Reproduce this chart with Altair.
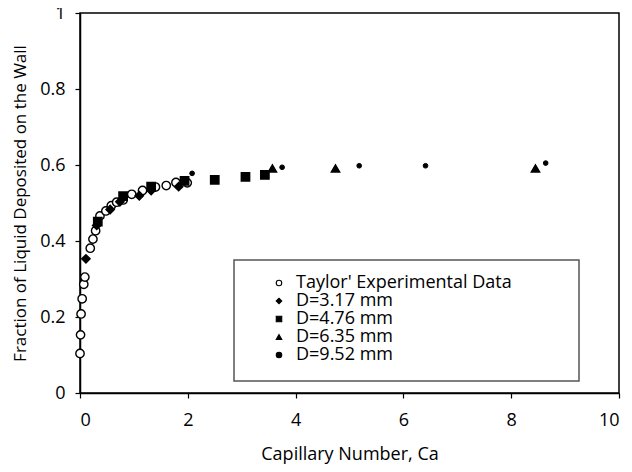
import altair as alt
import pandas as pd

FONT = "Open Sans"

series_order = ["Taylor' Experimental Data", "D=3.17 mm", "D=4.76 mm", "D=6.35 mm", "D=9.52 mm"]

taylor_x = [0.0, 0.01, 0.02, 0.04, 0.07, 0.09, 0.19, 0.24, 0.29, 0.37, 0.48, 0.58, 0.68, 0.80, 0.96, 1.16, 1.40, 1.60, 1.78, 1.99]
taylor_y = [0.104, 0.153, 0.208, 0.248, 0.286, 0.305, 0.381, 0.405, 0.427, 0.466, 0.479, 0.493, 0.502, 0.508, 0.523, 0.533, 0.542, 0.546, 0.554, 0.553]

d317_x = [0.11, 0.31, 0.56, 0.74, 1.10, 1.32, 1.83]
d317_y = [0.353, 0.441, 0.483, 0.503, 0.519, 0.533, 0.543]

d476_x = [0.33, 0.80, 1.32, 1.94, 2.50, 3.07, 3.43]
d476_y = [0.451, 0.518, 0.543, 0.558, 0.561, 0.569, 0.574]

d635_x = [3.57, 4.74, 8.45]
d635_y = [0.591, 0.591, 0.591]

d952_x = [2.08, 3.75, 5.18, 6.41, 8.64]
d952_y = [0.578, 0.594, 0.598, 0.598, 0.605]

rows = []
for name, xs, ys in [
    (series_order[0], taylor_x, taylor_y),
    (series_order[1], d317_x, d317_y),
    (series_order[2], d476_x, d476_y),
    (series_order[3], d635_x, d635_y),
    (series_order[4], d952_x, d952_y),
]:
    for x, y in zip(xs, ys):
        rows.append({"series": name, "Ca": x, "frac": y})
df = pd.DataFrame(rows)

x_enc = alt.X("Ca:Q", scale=alt.Scale(domain=[0, 10], nice=False),
              axis=alt.Axis(values=[0, 2, 4, 6, 8, 10], title="Capillary Number, Ca",
                            titlePadding=16, labelPadding=13, titleFontSize=18))
y_enc = alt.Y("frac:Q", scale=alt.Scale(domain=[0, 1], nice=False),
              axis=alt.Axis(values=[0, 0.2, 0.4, 0.6, 0.8, 1], format="~g",
                            title="Fraction of Liquid Deposited on the Wall",
                            titlePadding=10, labelPadding=10, titleFontSize=17))

legend = alt.Legend(title=None, orient="none", legendX=190, legendY=261,
                    labelFontSize=18, labelFont=FONT, symbolSize=30,
                    rowPadding=0, labelOffset=8, labelLimit=400,
                    labelColor="black", symbolStrokeWidth=1.1)

shape_enc = alt.Shape("series:N", scale=alt.Scale(domain=series_order,
                      range=["circle", "diamond", "square", "triangle-up", "circle"]),
                      legend=legend)
fill_enc = alt.Fill("series:N", scale=alt.Scale(domain=series_order,
                    range=["white", "black", "black", "black", "black"]), legend=legend)
stroke_enc = alt.Stroke("series:N", scale=alt.Scale(domain=series_order,
                        range=["black", "black", "black", "black", "black"]), legend=legend)

big = alt.Chart(df).transform_filter(alt.datum.series != "D=9.52 mm").mark_point(
    size=70, strokeWidth=1.4, opacity=1, filled=False
).encode(x=x_enc, y=y_enc, shape=shape_enc, fill=fill_enc, stroke=stroke_enc)

small = alt.Chart(df).transform_filter(alt.datum.series == "D=9.52 mm").mark_point(
    size=22, strokeWidth=1, opacity=1, filled=False
).encode(x=x_enc, y=y_enc, shape=shape_enc, fill=fill_enc, stroke=stroke_enc)

box = alt.Chart(pd.DataFrame({"a": [0]})).mark_rect(
    fill=None, stroke="#555555", strokeWidth=1.5
).encode(x=alt.value(154), x2=alt.value(499), y=alt.value(247), y2=alt.value(368))

chart = alt.layer(box, big, small).properties(
    width=539, height=380,
    autosize=alt.AutoSizeParams(type="none"),
    padding={"left": 72, "top": 5, "right": 5, "bottom": 79},
).configure_view(
    stroke="black", strokeWidth=1.5
).configure_axis(
    grid=False, domainColor="black", domainWidth=1.5, tickColor="black",
    tickSize=5, tickWidth=1.2, labelFont=FONT, titleFont=FONT,
    labelFontSize=18, labelColor="black", titleColor="black",
    titleFontWeight="normal"
)

chart.save("out.html", embed_options={"renderer": "svg", "actions": False})
